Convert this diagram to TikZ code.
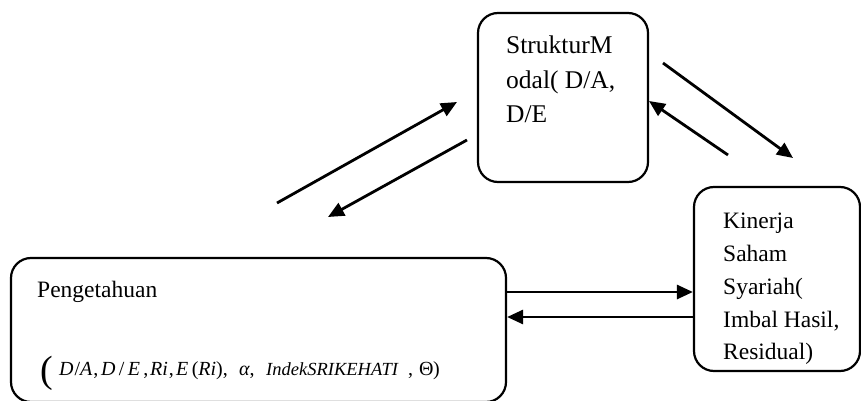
\documentclass[tikz,border=0pt]{standalone}
\usepackage{fontspec}
\setmainfont{Liberation Serif}
\usetikzlibrary{arrows.meta}
\begin{document}
\begin{tikzpicture}[x=1pt,y=-1pt,
  box/.style={draw,line width=2.2pt,rounded corners=20pt,inner sep=0pt},
  lbl/.style={anchor=base west,inner sep=0pt,font=\fontsize{23.5}{28}\selectfont},
  lblb/.style={anchor=base west,inner sep=0pt,font=\fontsize{25.5}{30}\selectfont},
  mth/.style={anchor=base west,inner sep=0pt,font=\fontsize{20}{22}\selectfont},
  conn/.style={line width=2.8pt,-{Triangle[length=16pt,width=14pt]}}]
\useasboundingbox (0,0) rectangle (861,401);
\clip (0,0) rectangle (861,401);
% boxes
\node[box,minimum width=170pt,minimum height=169pt] (sm) at (563,97.5) {};
\node[box,minimum width=166pt,minimum height=184pt] (ks) at (777,279) {};
\node[box,minimum width=495pt,minimum height=144pt] (pg) at (258.5,330) {};
% texts
\node[lblb] (sm1) at (506,54) {StrukturM};
\node[lblb] (sm2) at (506,89) {odal( D/A,};
\node[lblb] (sm3) at (506,123) {D/E};
\node[lbl] (ks1) at (723,228) {Kinerja};
\node[lbl] (ks2) at (723,261) {Saham};
\node[lbl] (ks3) at (723,294) {Syariah(};
\node[lbl] (ks4) at (723,327) {Imbal Hasil,};
\node[lbl] (ks5) at (723,359) {Residual)};
\node[lbl] (pg1) at (37,297) {Pengetahuan};
\node[anchor=base west,inner sep=0pt,font=\fontsize{38}{40}\selectfont] (par) at (40,382) {(};
\node[mth] (m1) at (59,375) {\textit{D}\kern1pt/\textit{A}\kern1pt,};
\node[mth] (m2) at (101,375) {\textit{D}\,/\,\textit{E}\,,};
\node[mth] (m3) at (150,375) {\textit{Ri}\kern1pt,};
\node[mth] (m4) at (176,375) {\textit{E}\,(\textit{Ri}),};
\node[mth] (m5) at (239,375) {\textit{α},};
\node[mth,font=\fontsize{18.5}{22}\selectfont] (m6) at (266,375) {\textit{IndekSRIKEHATI}};
\node[mth] (m7) at (408,375) {,};
\node[mth] (m8) at (419,375) {Θ};
\node[mth] (m9) at (433,375) {)};
% connector end points
\coordinate (a1s) at (277,203);
\coordinate (a1e) at (457,102);
\coordinate (a2s) at (467,140);
\coordinate (a2e) at (328,217);
\coordinate (a3s) at (663,63);
\coordinate (a3e) at (793,158);
\coordinate (a4s) at (728,155);
\coordinate (a4e) at (649,101);
\draw[conn] (a1s) -- (a1e);
\draw[conn] (a2s) -- (a2e);
\draw[conn] (a3s) -- (a3e);
\draw[conn] (a4s) -- (a4e);
\draw[conn] (pg.east |- 0,292) -- (ks.west |- 0,292);
\draw[conn] (ks.west |- 0,317) -- (pg.east |- 0,317);
\end{tikzpicture}
\end{document}
